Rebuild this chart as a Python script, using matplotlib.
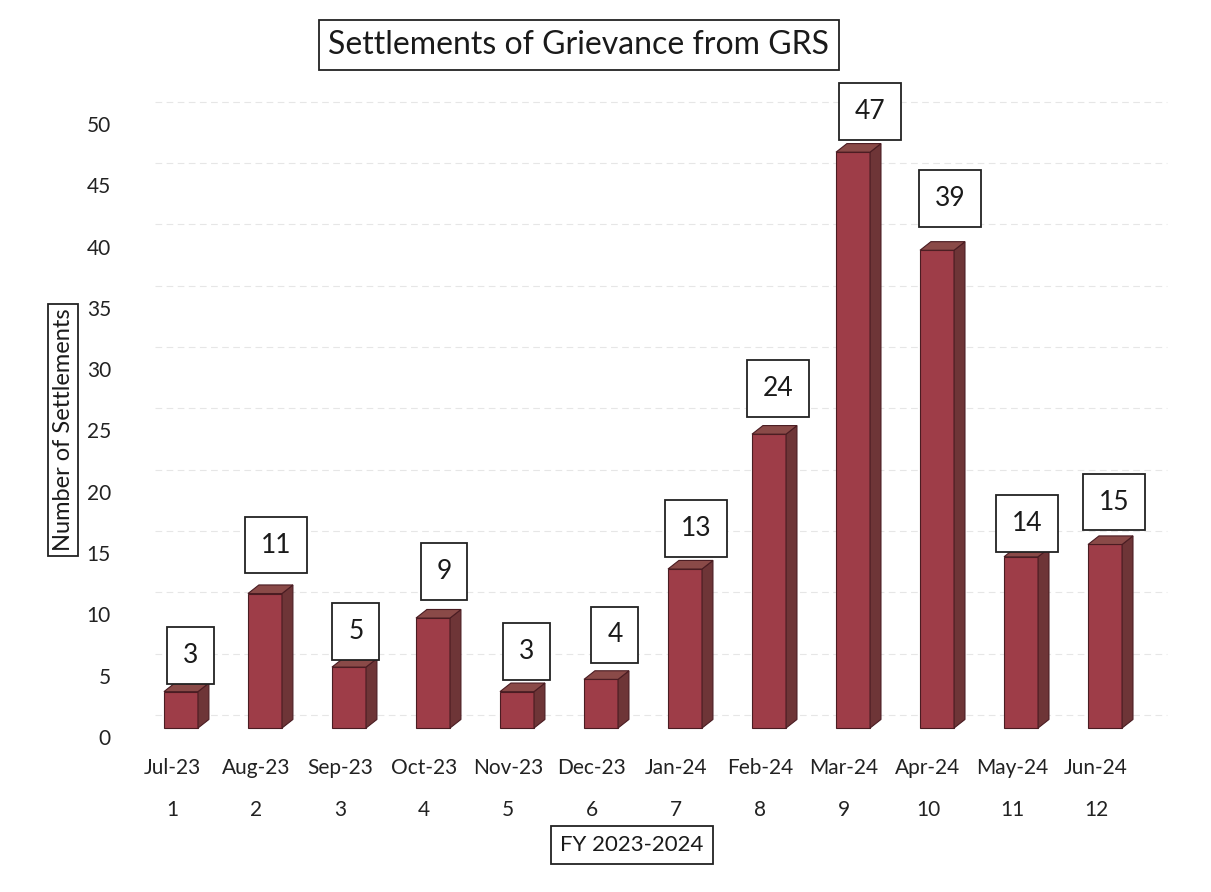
import matplotlib.pyplot as plt
from matplotlib.patches import Polygon
import numpy as np

plt.rcParams['font.family'] = ['Lato', 'DejaVu Sans']

# data
months = ['Jul-23', 'Aug-23', 'Sep-23', 'Oct-23', 'Nov-23', 'Dec-23',
          'Jan-24', 'Feb-24', 'Mar-24', 'Apr-24', 'May-24', 'Jun-24']
month_no = [1, 2, 3, 4, 5, 6, 7, 8, 9, 10, 11, 12]
settlements = [3, 11, 5, 9, 3, 4, 13, 24, 47, 39, 14, 15]

# hand placed data label boxes (offset from bar top, pixels)
label_offsets = [(19, 45), (20, 57), (16, 44), (20, 55), (19, 49), (23, 53),
                 (20, 49), (18, 54), (26, 49), (22, 60), (15, 42), (18, 51)]

front_col = '#9E3D48'
side_col = '#6E3537'
top_col = '#8A4A48'
edge_col = '#4a1c22'

fig = plt.figure(figsize=(12.11, 8.92), dpi=100)
ax = fig.add_axes([0.1073, 0.148, 0.8588, 0.7511])
ax.set_xlim(0.5, 12.88)
ax.set_ylim(-1.876, 52.77)
for s in ax.spines.values():
    s.set_visible(False)

# faint back wall gridlines
for g in range(0, 55, 5):
    ax.plot([0.8, 12.85], [g + 1.8, g + 1.8], color='#e6e6e6', lw=0.8,
            ls=(0, (6, 4)), zorder=0)

# pseudo 3D columns
w = 0.405
dx, dy = 0.13, 0.7
base = 0.73
for x, v in zip(month_no, settlements):
    x0 = x - 0.095
    x1 = x0 + w
    top = v + 0.7
    front = Polygon([(x0, base), (x1, base), (x1, top), (x0, top)],
                    closed=True, fc=front_col, ec=edge_col, lw=0.8, zorder=3)
    side = Polygon([(x1, base), (x1 + dx, base + dy), (x1 + dx, top + dy), (x1, top)],
                   closed=True, fc=side_col, ec=edge_col, lw=0.8, zorder=3)
    lid = Polygon([(x0, top), (x1, top), (x1 + dx, top + dy), (x0 + dx, top + dy)],
                  closed=True, fc=top_col, ec=edge_col, lw=0.8, zorder=3)
    ax.add_patch(front)
    ax.add_patch(side)
    ax.add_patch(lid)

for x, v, off in zip(month_no, settlements, label_offsets):
    ax.annotate(str(v), (x, v), xytext=off, textcoords='offset pixels',
                ha='center', va='center', fontsize=19, color='#1a1a1a',
                bbox=dict(boxstyle='square,pad=0.6', fc='white', ec='#222222', lw=1.3),
                zorder=5)

ax.set_yticks(range(0, 55, 5))
ax.tick_params(axis='y', length=0, pad=13.7, labelsize=15, labelcolor='#222222')
ax.set_xticks([])

trans = ax.get_xaxis_transform()
for x, m, n in zip(month_no, months, month_no):
    ax.text(x, -0.012, m, transform=trans, ha='center', va='center',
            fontsize=15, color='#222222')
    ax.text(x, -0.075, str(n), transform=trans, ha='center', va='center',
            fontsize=15, color='#222222')

fig.text(632 / 1211, 1 - 845 / 892, 'FY 2023-2024', ha='center', va='center',
         fontsize=16, color='#1a1a1a',
         bbox=dict(boxstyle='square,pad=0.4', fc='white', ec='#222222', lw=1.3))

fig.text(63 / 1211, 1 - 430 / 892, 'Number of Settlements', ha='center', va='center',
         rotation=90, fontsize=17, color='#1a1a1a',
         bbox=dict(boxstyle='square,pad=0.2', fc='white', ec='#222222', lw=1.3))

fig.text(579 / 1211, 1 - 45 / 892, 'Settlements of Grievance from GRS', ha='center',
         va='center', fontsize=23, color='#1a1a1a',
         bbox=dict(boxstyle='square,pad=0.3', fc='white', ec='#222222', lw=1.3))

fig.savefig('out.png', dpi=100)
